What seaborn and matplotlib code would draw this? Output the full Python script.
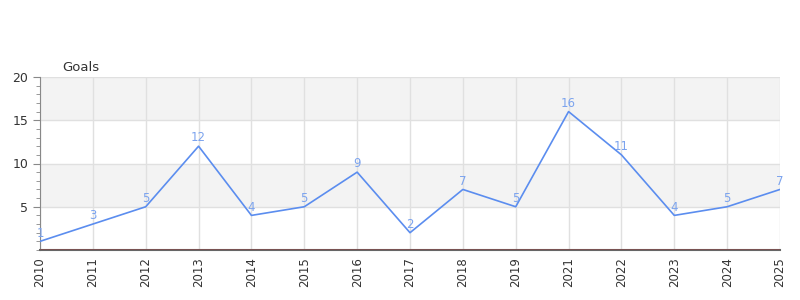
import matplotlib
matplotlib.use("Agg")
import matplotlib.pyplot as plt
import seaborn as sns
import pandas as pd
from matplotlib.ticker import MultipleLocator

years = ["2010", "2011", "2012", "2013", "2014", "2015", "2016", "2017",
         "2018", "2019", "2021", "2022", "2023", "2024", "2025"]
goals = [1, 3, 5, 12, 4, 5, 9, 2, 7, 5, 16, 11, 4, 5, 7]

df = pd.DataFrame({"year": years, "goals": goals})

sns.set_style("white")
plt.rcParams['font.family'] = ['DejaVu Sans']

fig = plt.figure(figsize=(8, 3), dpi=100)
ax = fig.add_axes([0.05, 1 - 250 / 300, 0.925, (250 - 77) / 300])

# alternating bands
for lo, hi, c in [(0, 5, "white"), (5, 10, "#f3f3f3"), (10, 15, "white"), (15, 20, "#f3f3f3")]:
    ax.axhspan(lo, hi, color=c, zorder=0, lw=0)

x = list(range(len(years)))
sns.lineplot(x=x, y=goals, ax=ax, color="#5b8def", lw=1.2, zorder=3)

for xi, v in zip(x, goals):
    ax.text(xi, v + 0.2, str(v), ha="center", va="bottom", fontsize=8.5,
            color="#7ba3ee", zorder=4)

ax.set_xlim(0, len(years) - 1)
ax.set_ylim(0, 20)
ax.set_xticks(x)
ax.set_xticklabels(years, rotation=90, fontsize=8.5, color="#333333")
ax.set_yticks([5, 10, 15, 20])
ax.set_yticklabels(["5", "10", "15", "20"], fontsize=9, color="#333333")
ax.yaxis.set_minor_locator(MultipleLocator(1))
ax.tick_params(axis="y", which="major", length=5, color="#888888", left=True)
ax.tick_params(axis="y", which="minor", length=3, color="#888888", left=True)
ax.tick_params(axis="x", length=0, pad=5)
ax.grid(True, axis="both", color="#e0e0e0", lw=1, zorder=1)
ax.set_axisbelow(True)

for s in ["top", "right"]:
    ax.spines[s].set_visible(False)
ax.spines["left"].set_color("#888888")
ax.spines["bottom"].set_color("#666666")
ax.spines["bottom"].set_linewidth(1.5)
ax.axhline(0, color="#cc0000", lw=1, zorder=5)

ax.set_xlabel("")
ax.set_ylabel("")
fig.text(62 / 800, 1 - 67 / 300, "Goals", fontsize=9.5, color="#333333", va="center")

fig.savefig("out.png", dpi=100)
